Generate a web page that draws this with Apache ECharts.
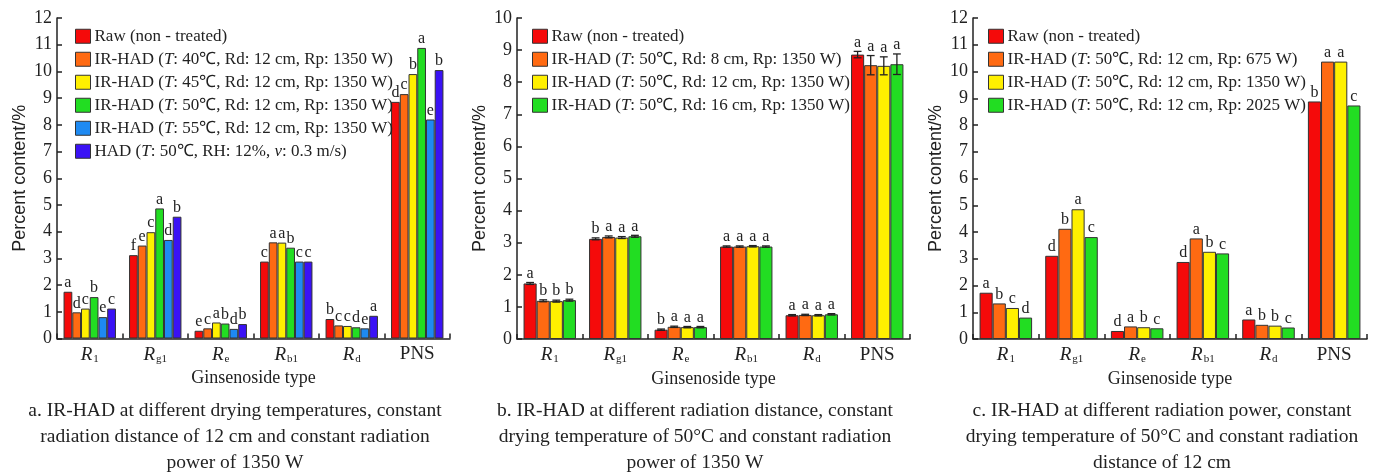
<!DOCTYPE html>
<html><head><meta charset="utf-8">
<script src="https://cdn.jsdelivr.net/npm/echarts@6/dist/echarts.min.js"></script>
<style>html,body{margin:0;padding:0;background:#fff}#c{width:1377px;height:475px}</style>
</head><body><div id="c"></div>
<script>
// ---------- data ----------
const categories = ['R1', 'Rg1', 'Re', 'Rb1', 'Rd', 'PNS'];

// panel a: drying temperature
const namesA = ['Raw (non - treated)', 'IR-HAD (T: 40℃, Rd: 12 cm, Rp: 1350 W)', 'IR-HAD (T: 45℃, Rd: 12 cm, Rp: 1350 W)',
  'IR-HAD (T: 50℃, Rd: 12 cm, Rp: 1350 W)', 'IR-HAD (T: 55℃, Rd: 12 cm, Rp: 1350 W)', 'HAD (T: 50℃, RH: 12%, v: 0.3 m/s)'];
const rawA  = [1.75, 3.12, 0.29, 2.88, 0.73, 8.86];
const ir40A = [0.98, 3.48, 0.38, 3.60, 0.49, 9.15];
const ir45A = [1.12, 3.98, 0.60, 3.59, 0.47, 9.90];
const ir50A = [1.55, 4.87, 0.56, 3.40, 0.42, 10.88];
const ir55A = [0.80, 3.69, 0.36, 2.88, 0.38, 8.20];
const hadA  = [1.12, 4.56, 0.54, 2.88, 0.85, 10.05];
const lettersRawA  = ['a','f','e','c','b','d'];
const lettersIr40A = ['d','e','c','a','c','c'];
const lettersIr45A = ['c','c','a','a','c','b'];
const lettersIr50A = ['b','a','b','b','d','a'];
const lettersIr55A = ['e','d','d','c','e','e'];
const lettersHadA  = ['c','b','b','c','a','b'];

// panel b: radiation distance
const namesB = ['Raw (non - treated)', 'IR-HAD (T: 50℃, Rd: 8 cm, Rp: 1350 W)', 'IR-HAD (T: 50℃, Rd: 12 cm, Rp: 1350 W)', 'IR-HAD (T: 50℃, Rd: 16 cm, Rp: 1350 W)'];
const rawB  = [1.73, 3.12, 0.29, 2.88, 0.74, 8.86];
const rd8B  = [1.19, 3.18, 0.38, 2.88, 0.75, 8.53];
const rd12B = [1.18, 3.16, 0.37, 2.89, 0.74, 8.51];
const rd16B = [1.21, 3.20, 0.37, 2.88, 0.77, 8.56];
const errRawB  = [0.03, 0.03, 0.02, 0.02, 0.02, 0.10];
const errRd8B  = [0.03, 0.03, 0.02, 0.02, 0.02, 0.30];
const errRd12B = [0.03, 0.03, 0.02, 0.02, 0.02, 0.28];
const errRd16B = [0.03, 0.03, 0.02, 0.02, 0.02, 0.32];
const lettersRawB  = ['a','b','b','a','a','a'];
const lettersRd8B  = ['b','a','a','a','a','a'];
const lettersRd12B = ['b','a','a','a','a','a'];
const lettersRd16B = ['b','a','a','a','a','a'];

// panel c: radiation power
const namesC = ['Raw (non - treated)', 'IR-HAD (T: 50℃, Rd: 12 cm, Rp: 675 W)', 'IR-HAD (T: 50℃, Rd: 12 cm, Rp: 1350 W)', 'IR-HAD (T: 50℃, Rd: 12 cm, Rp: 2025 W)'];
const rawC    = [1.73, 3.11, 0.30, 2.88, 0.73, 8.88];
const rp675C  = [1.33, 4.12, 0.47, 3.76, 0.53, 10.37];
const rp1350C = [1.16, 4.85, 0.44, 3.26, 0.50, 10.37];
const rp2025C = [0.80, 3.81, 0.40, 3.20, 0.43, 8.73];
const lettersRawC    = ['a','d','d','d','a','b'];
const lettersRp675C  = ['b','b','a','a','b','a'];
const lettersRp1350C = ['c','a','b','b','b','a'];
const lettersRp2025C = ['d','c','c','c','c','c'];

const captionA = ['a. IR-HAD at different drying temperatures, constant', 'radiation distance of 12 cm and constant radiation', 'power of 1350 W'];
const captionB = ['b. IR-HAD at different radiation distance, constant', 'drying temperature of 50°C and constant radiation', 'power of 1350 W'];
const captionC = ['c. IR-HAD at different radiation power, constant', 'drying temperature of 50°C and constant radiation', 'distance of 12 cm'];

const yAxisTitle = 'Percent content/%';
const xAxisTitle = 'Ginsenoside type';

// ---------- style ----------
const COLORS6 = ['#f50a0a', '#ff6a12', '#fff000', '#22dd22', '#1e8af2', '#3a12f5'];
const COLORS4 = ['#f50a0a', '#ff6a12', '#fff000', '#22dd22'];
const SERIF = '"Liberation Serif","Times New Roman",serif';
const SANS = '"Liberation Sans",Arial,sans-serif';
const AX = '#222';

const grids = [
  {left: 57, top: 18, width: 393, height: 320.5},
  {left: 517, top: 18, width: 393, height: 321},
  {left: 973, top: 18, width: 394, height: 321}
];

const catRich = {
  R: {fontFamily: SERIF, fontStyle: 'italic', fontSize: 19, color: '#222', lineHeight: 22},
  s: {fontFamily: SERIF, fontSize: 11, color: '#222', lineHeight: 22, padding: [9, 0, 0, 1]},
  p: {fontFamily: SERIF, fontSize: 19, color: '#222', lineHeight: 22}
};
function catLabel(v) {
  if (v === 'PNS') return '{p|PNS}';
  return '{R|R}{s|' + v.slice(1) + '}';
}

function xAxis(i) {
  return {
    type: 'category', gridIndex: i, data: categories,
    axisLine: {lineStyle: {color: AX, width: 1.5}},
    axisTick: {show: true, inside: true, length: 5, interval: 0, lineStyle: {color: AX, width: 1.5}},
    axisLabel: {formatter: catLabel, rich: catRich, margin: 5, interval: 0},
    name: xAxisTitle, nameLocation: 'middle', nameGap: 29,
    nameTextStyle: {fontFamily: SERIF, fontSize: 18, color: '#222'}
  };
}
function yAxis(i, max) {
  return {
    type: 'value', gridIndex: i, min: 0, max: max, interval: 1,
    splitLine: {show: false},
    axisLine: {show: true, lineStyle: {color: AX, width: 1.5}},
    axisTick: {show: true, inside: true, length: 5, lineStyle: {color: AX, width: 1.5}},
    axisLabel: {fontFamily: SERIF, fontSize: 18, color: '#222', margin: 5},
    name: yAxisTitle, nameLocation: 'middle', nameGap: 28, nameRotate: 90,
    nameTextStyle: {fontFamily: SANS, fontSize: 18, color: '#222'}
  };
}

function tag(name, k) { return name + '\u200b'.repeat(k); }
function legendFmt(name) {
  return name.replace(/\u200b/g, '').replace('(T:', '({i|T}:').replace('v:', '{i|v}:');
}
function legend(names, k, left) {
  return {
    left: left, top: 22, orient: 'vertical', itemWidth: 15, itemHeight: 14, itemGap: 4.5,
    icon: 'rect', selectedMode: false,
    data: names.map(n => tag(n, k)),
    formatter: legendFmt,
    itemStyle: {borderColor: '#333', borderWidth: 1},
    textStyle: {fontFamily: SERIF, fontSize: 17, color: '#222', lineHeight: 18.5, padding: [0, 0, 0, -1],
      rich: {i: {fontFamily: SERIF, fontStyle: 'italic', fontSize: 17, color: '#222'}}}
  };
}

function barSeries(name, k, gi, data, color, letters) {
  return {
    type: 'bar', name: tag(name, k), xAxisIndex: gi, yAxisIndex: gi, data: data,
    barGap: '0%', barCategoryGap: '20%',
    itemStyle: {color: color, borderColor: '#333', borderWidth: 1},
    label: letters ? {show: true, position: 'top', distance: 1, fontFamily: SERIF, fontSize: 16, color: '#222',
      formatter: p => letters[p.dataIndex]} : {show: false},
    emphasis: {disabled: true}, animation: false
  };
}

const seriesA = [rawA, ir40A, ir45A, ir50A, ir55A, hadA];
const lettersA = [lettersRawA, lettersIr40A, lettersIr45A, lettersIr50A, lettersIr55A, lettersHadA];
const seriesB = [rawB, rd8B, rd12B, rd16B];
const errB = [errRawB, errRd8B, errRd12B, errRd16B];
const lettersB = [lettersRawB, lettersRd8B, lettersRd12B, lettersRd16B];
const seriesC = [rawC, rp675C, rp1350C, rp2025C];
const lettersC = [lettersRawC, lettersRp675C, lettersRp1350C, lettersRp2025C];

const series = [];
seriesA.forEach((d, i) => series.push(barSeries(namesA[i], 0, 0, d, COLORS6[i], lettersA[i])));
seriesB.forEach((d, i) => series.push(barSeries(namesB[i], 1, 1, d, COLORS4[i], null)));
seriesC.forEach((d, i) => series.push(barSeries(namesC[i], 2, 2, d, COLORS4[i], lettersC[i])));

// error bars + letters for panel b
const errData = [];
seriesB.forEach((d, s) => d.forEach((v, c) => errData.push([c, v, s, errB[s][c], lettersB[s][c]])));
series.push({
  type: 'custom', xAxisIndex: 1, yAxisIndex: 1, data: errData, encode: {x: 0, y: 1}, z: 5, silent: true, animation: false,
  renderItem: function (params, api) {
    const c = api.value(0), v = api.value(1), s = api.value(2), e = api.value(3);
    const letter = errData[params.dataIndex][4];
    const band = api.size([1, 0])[0];
    const group = band * 0.8, bw = group / 4;
    const base = api.coord([c, v]);
    const x = base[0] - group / 2 + (s + 0.5) * bw;
    const top = api.coord([c, v + e])[1], bot = api.coord([c, v - e])[1];
    const cap = bw * 0.3;
    const ls = {stroke: '#222', lineWidth: 1.3};
    return {type: 'group', children: [
      {type: 'line', shape: {x1: x, y1: top, x2: x, y2: bot}, style: ls},
      {type: 'line', shape: {x1: x - cap, y1: top, x2: x + cap, y2: top}, style: ls},
      {type: 'line', shape: {x1: x - cap, y1: bot, x2: x + cap, y2: bot}, style: ls},
      {type: 'text', x: x, y: top - 1, style: {text: letter, textAlign: 'center', textVerticalAlign: 'bottom',
        font: '16px ' + SERIF, fill: '#222'}}
    ]};
  }
});

function captionGraphics(lines, cx) {
  return lines.map((t, i) => ({type: 'text', x: cx, y: 411 + i * 26, silent: true,
    style: {text: t, textAlign: 'center', textVerticalAlign: 'middle', font: '19.5px ' + SERIF, fill: '#222'}}));
}

const chart = echarts.init(document.getElementById('c'), null, {renderer: 'canvas'});
chart.setOption({
  animation: false,
  grid: grids,
  xAxis: [xAxis(0), xAxis(1), xAxis(2)],
  yAxis: [yAxis(0, 12), yAxis(1, 10), yAxis(2, 12)],
  legend: [legend(namesA, 0, 70), legend(namesB, 1, 527), legend(namesC, 2, 983)],
  series: series,
  graphic: [].concat(captionGraphics(captionA, 235), captionGraphics(captionB, 695), captionGraphics(captionC, 1162))
});
</script></body></html>
